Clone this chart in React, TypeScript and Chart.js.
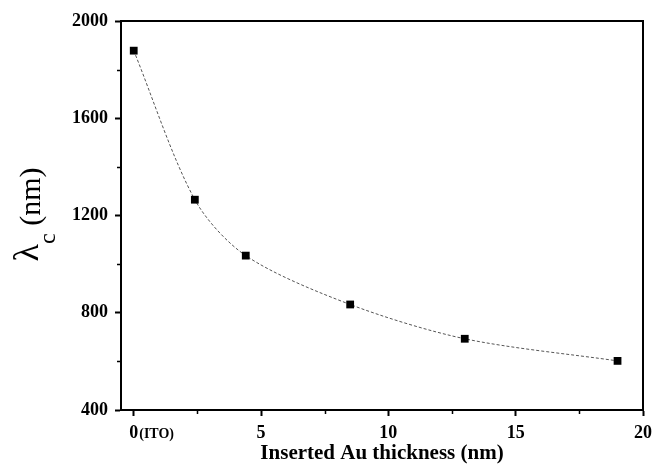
import React, { useEffect, useRef } from "react";
import { Chart, registerables } from "chart.js";

Chart.register(...registerables);

const thickness = [0, 2.4, 4.4, 8.5, 13, 19];
const lambdaC = [1878, 1265, 1035, 834, 693, 602];
const xMajorTicks = [0, 5, 10, 15, 20];
const xMinorTicks = [2.5, 7.5, 12.5, 17.5];
const yMajorTicks = [400, 800, 1200, 1600, 2000];
const yMinorTicks = [600, 1000, 1400, 1800];
const xTitle = "Inserted Au thickness (nm)";
const zeroSuffix = "(ITO)";

const SERIF = '"Liberation Serif", "Times New Roman", serif';
const TICK_SIZE = 18;

const decorPlugin = {
  id: "decor",
  afterDraw(chart: any) {
    const { ctx, chartArea: a, scales } = chart;
    const x = scales.x;
    const y = scales.y;
    ctx.save();
    // frame
    ctx.strokeStyle = "#000";
    ctx.lineWidth = 2;
    ctx.strokeRect(a.left, a.top, a.right - a.left, a.bottom - a.top);
    // minor ticks
    ctx.lineWidth = 1.5;
    ctx.beginPath();
    xMinorTicks.forEach((v) => {
      const px = Math.round(x.getPixelForValue(v)) + 0.5;
      ctx.moveTo(px, a.bottom);
      ctx.lineTo(px, a.bottom + 4);
    });
    yMinorTicks.forEach((v) => {
      const py = Math.round(y.getPixelForValue(v)) + 0.5;
      ctx.moveTo(a.left, py);
      ctx.lineTo(a.left - 4, py);
    });
    ctx.stroke();
    // "(ITO)" suffix after the zero label
    ctx.fillStyle = "#000";
    ctx.font = `bold ${TICK_SIZE}px ${SERIF}`;
    const zw = ctx.measureText("0").width;
    ctx.font = `bold 14px ${SERIF}`;
    ctx.textAlign = "left";
    ctx.textBaseline = "alphabetic";
    ctx.fillText(zeroSuffix, x.getPixelForValue(0) + zw / 2 + 1, a.bottom + 28);
    // y title: λ_c (nm)
    const cy = (a.top + a.bottom) / 2 - 1;
    ctx.translate(40, cy);
    ctx.rotate(-Math.PI / 2);
    ctx.font = `36px ${SERIF}`;
    const wl = ctx.measureText("λ").width;
    ctx.font = `24px ${SERIF}`;
    const wc = ctx.measureText("c").width;
    ctx.font = `30px ${SERIF}`;
    const wn = ctx.measureText(" (nm)").width;
    const total = wl + wc + wn;
    let sx = -total / 2;
    ctx.font = `36px ${SERIF}`;
    ctx.fillText("λ", sx, -2);
    sx += wl;
    ctx.font = `24px ${SERIF}`;
    ctx.fillText("c", sx, 15);
    sx += wc;
    ctx.font = `30px ${SERIF}`;
    ctx.fillText(" (nm)", sx, 0);
    ctx.restore();
  },
};

export default function App() {
  const ref = useRef<HTMLCanvasElement | null>(null);
  useEffect(() => {
    document.body.style.margin = "0";
    const canvas = ref.current;
    if (!canvas) return;
    const chart = new Chart(canvas, {
      type: "line",
      data: {
        datasets: [
          {
            data: thickness.map((t, i) => ({ x: t, y: lambdaC[i] })),
            borderColor: "#555",
            borderWidth: 1,
            borderDash: [3, 2],
            tension: 0.3,
            pointStyle: "rect",
            pointRadius: 5.5,
            pointBackgroundColor: "#000",
            pointBorderWidth: 0,
            fill: false,
          },
        ],
      },
      options: {
        animation: false,
        responsive: false,
        devicePixelRatio: 1,
        layout: { padding: { top: 21, right: 11, bottom: 0, left: 0 } },
        plugins: { legend: { display: false }, tooltip: { enabled: false } },
        scales: {
          x: {
            type: "linear",
            min: -0.5,
            max: 20,
            afterBuildTicks: (s: any) => {
              s.ticks = xMajorTicks.map((v) => ({ value: v }));
            },
            afterFit: (s: any) => {
              s.height = 57;
              s.paddingLeft = 0;
              s.paddingRight = 0;
            },
            grid: {
              drawOnChartArea: false,
              drawTicks: true,
              tickLength: 6,
              tickWidth: 2,
              tickColor: "#000",
            },
            border: { display: true, color: "#000", width: 2 },
            ticks: {
              color: "#000",
              font: { family: SERIF, size: TICK_SIZE, weight: "bold" },
              padding: 7,
              maxRotation: 0,
              autoSkip: false,
              callback: (v: any) => String(v),
            },
            title: {
              display: true,
              text: xTitle,
              color: "#000",
              font: { family: SERIF, size: 21, weight: "bold" },
              padding: { top: 0, bottom: 1 },
            },
          },
          y: {
            type: "linear",
            min: 400,
            max: 2000,
            afterBuildTicks: (s: any) => {
              s.ticks = yMajorTicks.map((v) => ({ value: v }));
            },
            afterFit: (s: any) => {
              s.width = 121;
              s.paddingTop = 0;
              s.paddingBottom = 0;
            },
            grid: {
              drawOnChartArea: false,
              drawTicks: true,
              tickLength: 6,
              tickWidth: 2,
              tickColor: "#000",
            },
            border: { display: true, color: "#000", width: 2 },
            ticks: {
              color: "#000",
              font: { family: SERIF, size: TICK_SIZE, weight: "bold" },
              padding: 7,
              autoSkip: false,
              callback: (v: any) => String(v),
            },
          },
        },
      },
      plugins: [decorPlugin],
    } as any);
    return () => chart.destroy();
  }, []);
  return (
    <div style={{ width: 654, height: 467 }}>
      <canvas ref={ref} width={654} height={467} style={{ display: "block" }} />
    </div>
  );
}
